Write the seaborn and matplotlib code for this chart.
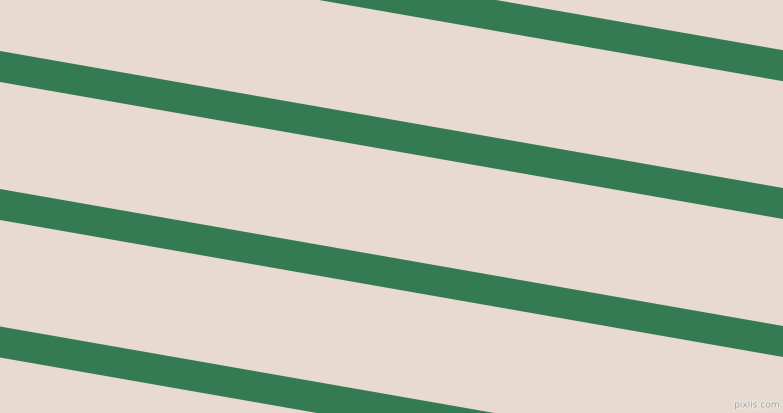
import matplotlib.pyplot as plt
import matplotlib.patheffects as pe
import numpy as np
import seaborn as sns

WIDTH = 783
HEIGHT = 414

BACKGROUND = "#e8d9d1"
STRIPE_COLOR = "#357b52"

# stripe centre lines, read at the left and right edges of the picture (pixels from top)
stripe_ids = ["s1", "s2", "s3", "s4"]
left_y = [-70.3, 67.5, 205.5, 343.0]
right_y = [66.7, 204.5, 342.5, 480.0]
edge_x = [0, WIDTH]
stripe_height = 31.0  # vertical thickness in px


def main() -> None:
    sns.set_theme(style="white")

    fig = plt.figure(figsize=(WIDTH / 100, HEIGHT / 100), dpi=100)
    fig.patch.set_facecolor(BACKGROUND)
    ax = fig.add_axes([0, 0, 1, 1])
    ax.set_facecolor(BACKGROUND)

    x = np.array(edge_x, dtype=float)
    half = stripe_height / 2
    for sid, yl, yr in zip(stripe_ids, left_y, right_y):
        y = np.array([yl, yr])
        ax.fill_between(x, y - half, y + half, color=STRIPE_COLOR, linewidth=0, label=sid)

    ax.set_xlim(0, WIDTH)
    ax.set_ylim(HEIGHT, 0)
    ax.set_axis_off()

    ax.text(
        757, 406, "pixlis.com",
        fontsize=6.5, color="#9aa396", ha="center", va="center",
        path_effects=[pe.withStroke(linewidth=1.5, foreground="#f0e8e3")],
    )

    fig.savefig("out.png", dpi=100, facecolor=BACKGROUND)
    plt.close(fig)


if __name__ == "__main__":
    main()
